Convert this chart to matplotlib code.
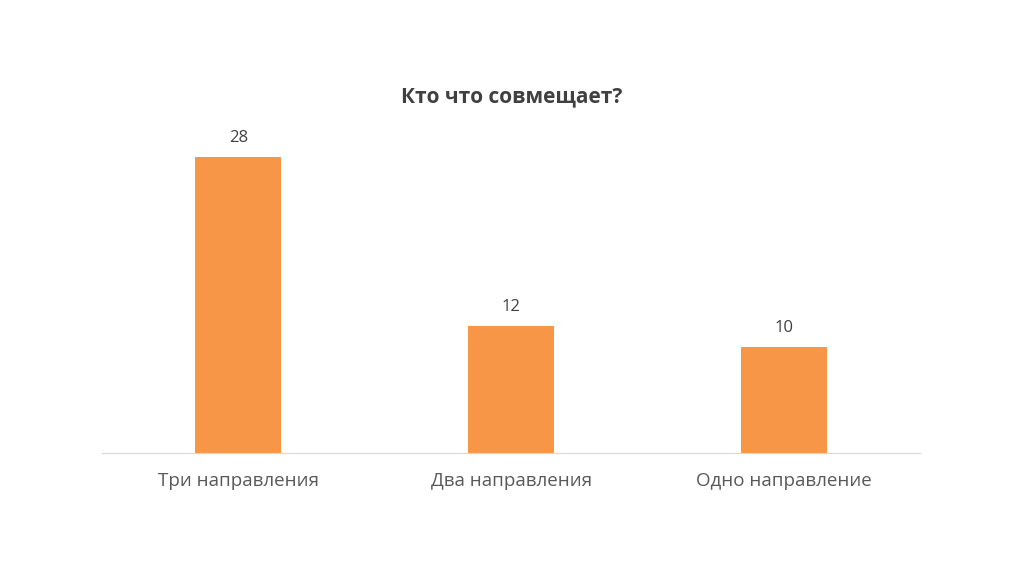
import matplotlib
matplotlib.use("Agg")
import matplotlib.pyplot as plt

categories = ["Три направления", "Два направления", "Одно направление"]
values = [28, 12, 10]

plt.rcParams["font.family"] = "Open Sans"
fig = plt.figure(figsize=(10.24, 5.76), dpi=100)
ax = fig.add_axes([0.0996, 0.2135, 0.799, 0.550])
x = range(len(categories))
bars = ax.bar(x, values, width=0.315, color="#F79646")
ax.set_xlim(-0.5, 2.5)
ax.set_ylim(0, 30)
for b, v in zip(bars, values):
    ax.annotate(str(v), (b.get_x() + b.get_width() / 2, v), xytext=(0, 8),
                textcoords="offset points", ha="center", va="bottom",
                fontsize=12, color="#404040")
ax.set_xticks(list(x))
ax.set_xticklabels(categories, fontsize=13.5, color="#595959")
ax.tick_params(axis="x", length=0, pad=14)
ax.set_yticks([])
for s in ["top", "right", "left"]:
    ax.spines[s].set_visible(False)
ax.spines["bottom"].set_color("#D9D9D9")
fig.text(0.5, 0.832, "Кто что совмещает?", ha="center", va="center",
         fontsize=15, fontweight="bold", color="#404040")
fig.savefig("out.png", dpi=100)
